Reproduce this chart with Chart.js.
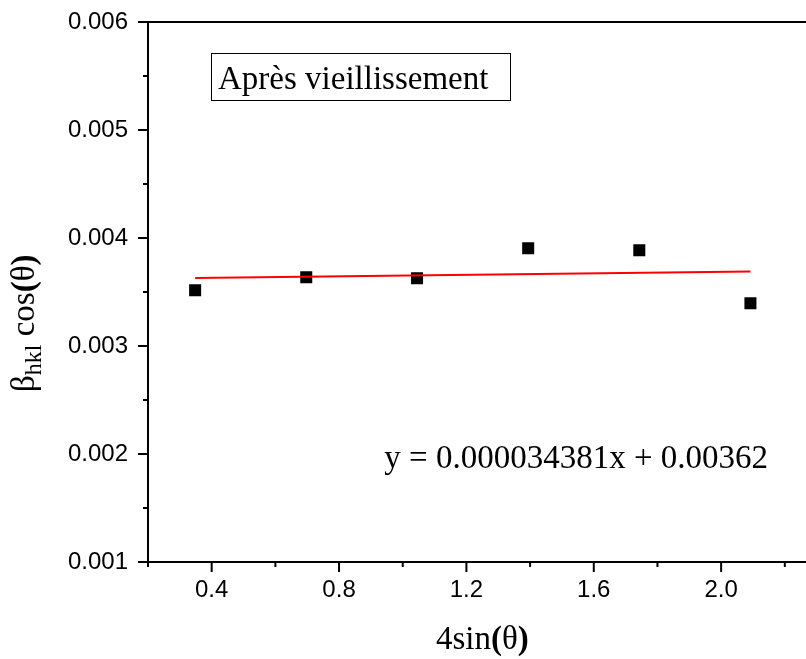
<!DOCTYPE html>
<html>
<head>
<meta charset="utf-8">
<script src="https://cdn.jsdelivr.net/npm/chart.js@4.4.1/dist/chart.umd.min.js"></script>
<style>
  html, body { margin: 0; padding: 0; background: #fff; overflow: hidden; }
  #wrap { width: 857px; height: 659px; }
</style>
</head>
<body>
<div id="wrap"><canvas id="chart" width="857" height="659"></canvas></div>
<script>
// data
const xValues = [0.348, 0.697, 1.045, 1.394, 1.743, 2.092];
const yValues = [0.003516, 0.003636, 0.003627, 0.003905, 0.003886, 0.003395];
const fitX = [0.348, 2.092];
const fitY = [0.00363, 0.00369];
const xMajorTicks = [0.4, 0.8, 1.2, 1.6, 2.0];
const yMajorTicks = [0.001, 0.002, 0.003, 0.004, 0.005, 0.006];

const boxText = 'Après vieillissement';
const equationText = 'y = 0.000034381x + 0.00362';

const SERIF = '"Liberation Serif", "Times New Roman", serif';
const SANS = '"Liberation Sans", Arial, sans-serif';

function isMajor(v, list) {
    return list.some(m => Math.abs(m - v) < 1e-9);
}

// draw a list of text runs one after the other
function drawRuns(ctx, runs, x, y) {
    let cx = x;
    runs.forEach(r => {
        ctx.font = r.font;
        ctx.fillText(r.text, cx, y + (r.dy || 0));
        cx += ctx.measureText(r.text).width;
    });
}

const framePlugin = {
    id: 'frame',
    afterDraw(chart) {
        const ctx = chart.ctx;
        const area = chart.chartArea;
        const xs = chart.scales.x;
        const ys = chart.scales.y;
        ctx.save();
        ctx.strokeStyle = '#000';
        ctx.lineWidth = 2;

        // top line of the frame
        ctx.beginPath();
        ctx.moveTo(area.left - 1, area.top);
        ctx.lineTo(area.right, area.top);
        ctx.stroke();

        // outward ticks, long for major, short for minor
        xs.ticks.forEach(t => {
            const px = xs.getPixelForValue(t.value);
            const len = isMajor(t.value, xMajorTicks) ? 10 : 5;
            ctx.beginPath();
            ctx.moveTo(px, area.bottom);
            ctx.lineTo(px, area.bottom + len);
            ctx.stroke();
        });
        ys.ticks.forEach(t => {
            const py = ys.getPixelForValue(t.value);
            const len = isMajor(t.value, yMajorTicks) ? 10 : 5;
            ctx.beginPath();
            ctx.moveTo(area.left, py);
            ctx.lineTo(area.left - len, py);
            ctx.stroke();
        });

        // label box
        ctx.lineWidth = 1;
        ctx.strokeRect(211.5, 53.5, 299, 47);
        ctx.fillStyle = '#000';
        ctx.textBaseline = 'alphabetic';
        ctx.textAlign = 'left';
        ctx.font = '33px ' + SERIF;
        ctx.fillText(boxText, 218, 89);

        // equation
        ctx.textAlign = 'right';
        ctx.fillText(equationText, 768, 468);

        // x title
        ctx.textAlign = 'left';
        drawRuns(ctx, [
            { text: '4sin', font: '33px ' + SERIF },
            { text: '(', font: 'bold 33px ' + SERIF },
            { text: 'θ', font: '33px ' + SERIF },
            { text: ')', font: 'bold 33px ' + SERIF }
        ], 436, 649);

        // y title, rotated
        ctx.translate(34, 392);
        ctx.rotate(-Math.PI / 2);
        drawRuns(ctx, [
            { text: 'β', font: '33px ' + SERIF },
            { text: 'hkl', font: '24px ' + SERIF, dy: 7 },
            { text: ' cos', font: '33px ' + SERIF },
            { text: '(', font: 'bold 33px ' + SERIF },
            { text: 'θ', font: '33px ' + SERIF },
            { text: ')', font: 'bold 33px ' + SERIF }
        ], 0, 0);
        ctx.restore();
    }
};

const ctx = document.getElementById('chart').getContext('2d');
new Chart(ctx, {
    type: 'scatter',
    data: {
        datasets: [
            {
                label: 'fit',
                type: 'line',
                data: fitX.map((x, i) => ({ x, y: fitY[i] })),
                borderColor: '#ff0000',
                borderWidth: 2,
                pointRadius: 0,
                fill: false,
                order: 0
            },
            {
                label: 'data',
                data: xValues.map((x, i) => ({ x, y: yValues[i] })),
                pointStyle: 'rect',
                pointRadius: 8.5,
                backgroundColor: '#000',
                borderWidth: 0,
                order: 1
            }
        ]
    },
    options: {
        responsive: false,
        animation: false,
        layout: { padding: { top: 22, right: 0, left: 0, bottom: 0 } },
        scales: {
            x: {
                type: 'linear',
                min: 0.2,
                max: 2.4,
                afterFit: (s) => { s.height = 97; s.paddingRight = 0; s.paddingLeft = 0; },
                ticks: {
                    stepSize: 0.2,
                    autoSkip: false,
                    maxRotation: 0,
                    padding: 14,
                    color: '#000',
                    font: { family: SANS, size: 24 },
                    callback: (v) => isMajor(v, xMajorTicks) ? v.toFixed(1) : ''
                },
                grid: { drawOnChartArea: false, drawTicks: false },
                border: { display: true, color: '#000', width: 2 }
            },
            y: {
                type: 'linear',
                min: 0.001,
                max: 0.006,
                afterFit: (s) => { s.width = 148; s.paddingTop = 0; s.paddingBottom = 0; },
                ticks: {
                    stepSize: 0.0005,
                    autoSkip: false,
                    padding: 20,
                    color: '#000',
                    font: { family: SANS, size: 24 },
                    callback: (v) => isMajor(v, yMajorTicks) ? v.toFixed(3) : ''
                },
                grid: { drawOnChartArea: false, drawTicks: false },
                border: { display: true, color: '#000', width: 2 }
            }
        },
        plugins: {
            legend: { display: false },
            tooltip: { enabled: false }
        }
    },
    plugins: [framePlugin]
});
</script>
</body>
</html>
